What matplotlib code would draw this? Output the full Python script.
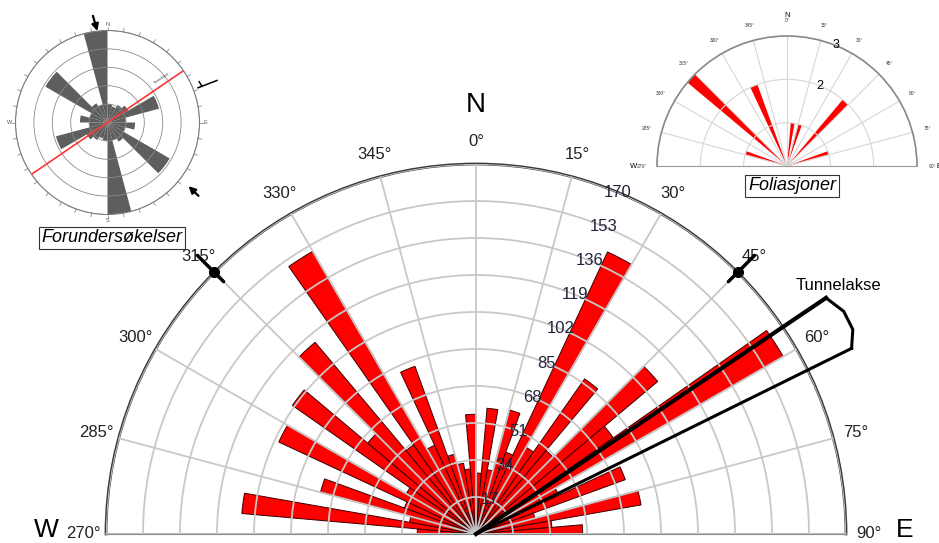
import numpy as np
import matplotlib.pyplot as plt

plt.rcParams['font.family'] = ['Liberation Sans', 'DejaVu Sans']

# --- data ---
# main rose, 5 degree classes from 270 through N to 90
main_bins = np.arange(270, 450, 5) % 360
main_counts = [27, 108, 31, 74, 35, 100, 37, 103, 65, 115,
               50, 150, 45, 82, 38, 33, 30, 55,
               28, 58, 30, 59, 40, 143, 46, 87, 50, 109,
               77, 163, 42, 73, 28, 77, 35, 49]
r_ticks = [17, 34, 51, 68, 85, 102, 119, 136, 153, 170]
theta_ticks = [270, 285, 300, 315, 330, 345, 0, 15, 30, 45, 60, 75, 90]

# foliasjoner (small half rose, top right)
fol_bins = [285, 310, 335, 5, 15, 40, 70]
fol_counts = [1, 3, 2, 1, 1, 2, 1]

# forundersøkelser (bidirectional rose, 15 degree classes)
pre_bins = [0, 15, 30, 45, 60, 75, 90, 105, 120, 135, 150, 165]
pre_counts = [1.0, 0.9, 1.1, 1.3, 2.9, 1.0, 1.5, 1.0, 3.9, 1.2, 1.0, 5.0]
pre_dirs = {'N': 0, 'E': 90, 'S': 180, 'W': 270}

tunnel_dir = 60
strike_marks = [315, 45]

W, H = 939, 543


def signed(a):
    a = np.asarray(a, dtype=float)
    return np.where(a > 180, a - 360, a)


def px_box(cx, cy, R, half=False):
    side = 2 * R
    if half:
        bottom = (H - cy) - side / 4
    else:
        bottom = (H - cy) - R
    return [(cx - R) / W, bottom / H, side / W, side / H]


fig = plt.figure(figsize=(W / 100, H / 100), dpi=100)

# --- main rose ---
ax = fig.add_axes(px_box(476, 534, 370, half=True), projection='polar')
ax.set_theta_zero_location('N')
ax.set_theta_direction(-1)
ax.set_thetamin(-90)
ax.set_thetamax(90)
ax.bar(np.radians(signed(main_bins)), main_counts, width=np.radians(5), align='edge',
       color='#ff0000', edgecolor='#3c0000', linewidth=0.7)
ax.set_ylim(0, 170)
ax.set_yticks(r_ticks)
ax.set_yticklabels([])
ax.set_thetagrids(signed(theta_ticks), [f'{a}°' for a in theta_ticks], fontsize=12, color='#222222')
ax.tick_params(axis='x', pad=6)
ax.set_axisbelow(False)
ax.grid(color='#c8c8c8', linewidth=1.3)
ax.spines['polar'].set_color('#3a3a3a')
ax.spines['polar'].set_linewidth(2)
ax.spines['start'].set_color('#888888')
ax.spines['end'].set_color('#888888')
ax.spines['start'].set_linewidth(1.5)
ax.spines['end'].set_linewidth(1.5)

for v in r_ticks:
    ax.text(np.radians(22.5), v, str(v), ha='center', va='center', fontsize=12,
            color='#23233a', clip_on=False, zorder=5)

ax.text(0, 197, 'N', ha='center', va='center', fontsize=20, clip_on=False)
fig.text(46 / W, 1 - 542 / H, 'W', ha='center', va='bottom', fontsize=19)
fig.text(905 / W, 1 - 542 / H, 'E', ha='center', va='bottom', fontsize=19)

# strike symbols on the outer circle
for a in strike_marks:
    t = np.radians(signed(a))
    ax.plot([t, t], [164, 181], color='k', lw=2.5, clip_on=False, solid_capstyle='round', zorder=6)
    ax.plot(t, 170, 'o', color='k', ms=7, clip_on=False, zorder=6)

# tunnel axis wedge
t_left = np.radians(tunnel_dir - 4)
t_right = np.radians(tunnel_dir + 3.7)
ax.plot([t_left, t_left], [0, 194], color='k', lw=3, clip_on=False, zorder=6)
ax.plot([t_right, t_right], [0, 192.5], color='k', lw=2.2, clip_on=False, zorder=6)
cap_t = np.radians(tunnel_dir + np.array([-4, -1.2, 1.5, 3.7]))
ax.plot(cap_t, [194, 197.5, 197, 192.5], color='k', lw=2.2, clip_on=False, zorder=6)
fig.text(838 / W, 1 - 285 / H, 'Tunnelakse', ha='center', va='center', fontsize=12)

# --- inset: forundersøkelser ---
ax1 = fig.add_axes(px_box(107.5, 122.5, 92), projection='polar')
ax1.set_theta_zero_location('N')
ax1.set_theta_direction(-1)
pre_t = np.radians(pre_bins)
ax1.bar(pre_t, pre_counts, width=np.radians(15), align='edge', color='#5e5e5e', edgecolor='none')
ax1.bar(pre_t + np.pi, pre_counts, width=np.radians(15), align='edge', color='#5e5e5e', edgecolor='none')
ax1.set_ylim(0, 5)
ax1.set_yticks([1, 2, 3, 4, 5])
ax1.set_yticklabels([])
ax1.set_xticks([])
ax1.yaxis.grid(True, color='#8a8a8a', linewidth=0.6)
ax1.set_axisbelow(False)
ax1.spines['polar'].set_color('#777777')
ax1.spines['polar'].set_linewidth(0.8)
for lab, a in pre_dirs.items():
    ax1.text(np.radians(a), 5.3, lab, fontsize=4, ha='center', va='center', color='#555555', clip_on=False)
for a in range(0, 360, 10):
    ta = np.radians(a)
    ax1.plot([ta, ta], [5, 5.2], color='#777777', lw=0.5, clip_on=False)
tl = np.radians(55.7)
ax1.plot([tl, tl, tl + np.pi], [4.95, 0, 4.95], color='#ff3333', lw=1.2, zorder=4)
ax1.text(tl, 3.6, 'Tunnelakse', fontsize=2.5, rotation=34, ha='center', va='bottom', color='#444444')
ax1.annotate('', xy=(np.radians(354), 4.85), xytext=(np.radians(352), 6.0),
             arrowprops=dict(arrowstyle='-|>', color='k', lw=1.6), annotation_clip=False)
ax1.annotate('', xy=(np.radians(128), 5.45), xytext=(np.radians(129), 6.5),
             arrowprops=dict(arrowstyle='-|>', color='k', lw=1.6), annotation_clip=False)
td = np.radians(69)
ax1.plot([td, td], [5.27, 6.38], color='k', lw=1.1, clip_on=False)
ax1.plot([td, np.radians(66)], [5.5, 5.45], color='k', lw=1.1, clip_on=False)
fig.text(112 / W, 1 - 238 / H, 'Forundersøkelser', style='italic', fontsize=13,
         ha='center', va='center',
         bbox=dict(boxstyle='square,pad=0.15', fc='white', ec='#333333', lw=0.8))

# --- inset: foliasjoner ---
ax2 = fig.add_axes(px_box(787, 166, 130, half=True), projection='polar')
ax2.set_theta_zero_location('N')
ax2.set_theta_direction(-1)
ax2.set_thetamin(-90)
ax2.set_thetamax(90)
ax2.bar(np.radians(signed(fol_bins)), fol_counts, width=np.radians(5), align='edge',
        color='#ff0000', edgecolor='none')
ax2.set_ylim(0, 3)
ax2.set_yticks([1, 2, 3])
ax2.set_yticklabels([])
ax2.set_thetagrids(signed(theta_ticks), [f'{a}°' for a in theta_ticks], fontsize=3.5, color='#333333')
ax2.tick_params(axis='x', pad=0.5)
ax2.grid(color='#d6d6d6', linewidth=0.8)
ax2.spines['polar'].set_color('#888888')
ax2.spines['polar'].set_linewidth(1.2)
ax2.spines['start'].set_color('#999999')
ax2.spines['end'].set_color('#999999')
for v in [2, 3]:
    ax2.text(np.radians(22), v, str(v), ha='center', va='center', fontsize=9, clip_on=False)
ax2.text(0, 3.47, 'N', ha='center', va='center', fontsize=5.5, clip_on=False)
ax2.text(np.radians(-90), 3.55, 'W', ha='center', va='center', fontsize=5.5, clip_on=False)
ax2.text(np.radians(90), 3.49, 'E', ha='center', va='center', fontsize=4.8, clip_on=False)
fig.text(792 / W, 1 - 186 / H, 'Foliasjoner', style='italic', fontsize=13,
         ha='center', va='center',
         bbox=dict(boxstyle='square,pad=0.15', fc='white', ec='#333333', lw=0.8))

fig.savefig('out.png', dpi=100)
